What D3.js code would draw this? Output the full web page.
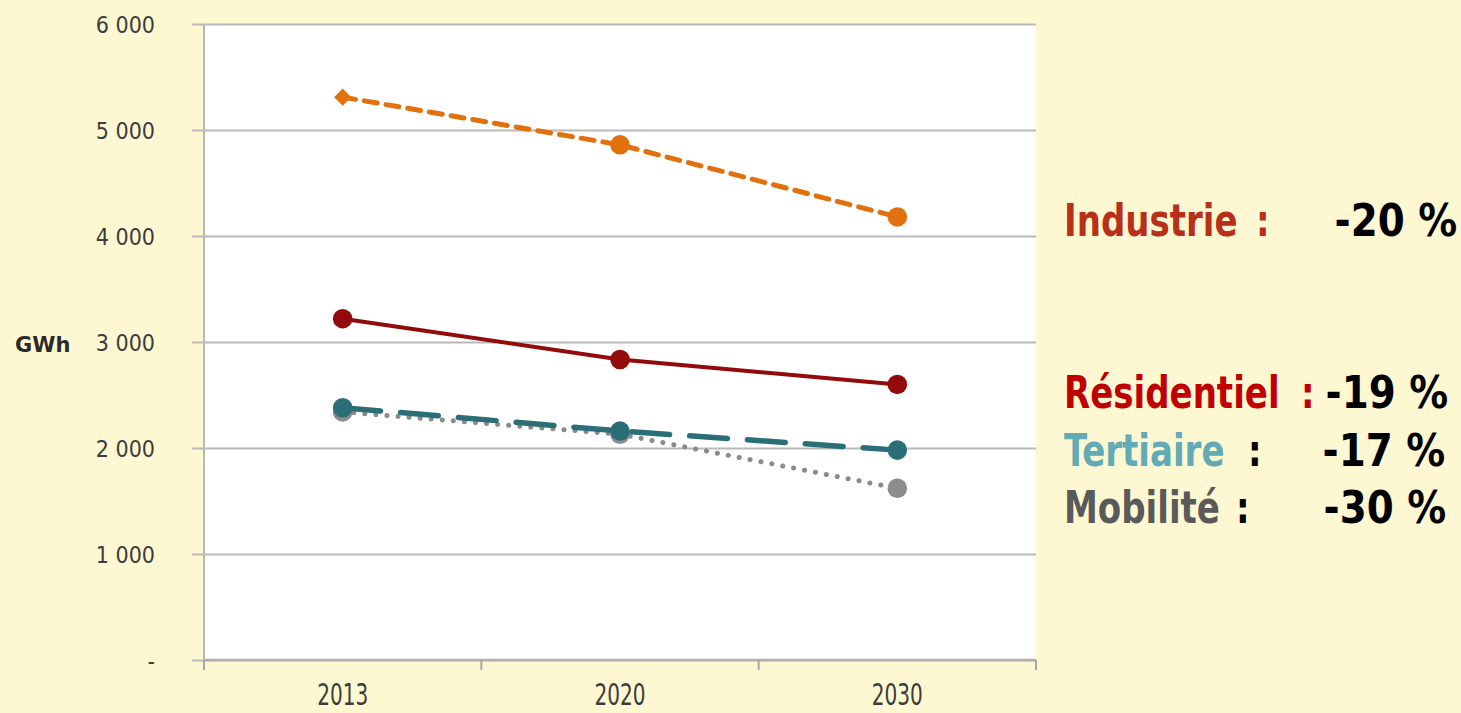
<!DOCTYPE html>
<html>
<head>
<meta charset="utf-8">
<script src="https://cdn.jsdelivr.net/npm/d3@7"></script>
<style>
  body { margin: 0; background: #fef8d2; }
  svg { display: block; }
</style>
</head>
<body>
<script>
var width = 1461, height = 713;

// data
var years = ["2013", "2020", "2030"];
var industrie = [5310, 4860, 4180];
var residentiel = [3220, 2835, 2600];
var tertiaire = [2380, 2160, 1980];
var mobilite = [2340, 2130, 1620];
var yTicks = [0, 1000, 2000, 3000, 4000, 5000, 6000];
var legendNames = ["Industrie", "Résidentiel", "Tertiaire", "Mobilité"];
var legendPct = ["-20 %", "-19 %", "-17 %", "-30 %"];

var series = [
  { values: mobilite, color: "#8a8a8a", width: 5, dash: "0.1 11", marker: "#8c8c8c" },
  { values: tertiaire, color: "#2b6e78", width: 5.5, dash: "38 20", marker: "#2b6e78" },
  { values: residentiel, color: "#930a0a", width: 4, dash: null, marker: "#930a0a" },
  { values: industrie, color: "#e2700c", width: 5, dash: "13 9", marker: "#e2700c", firstDiamond: true }
];

var font = "'DejaVu Sans', sans-serif";

var svg = d3.select("body").append("svg").attr("width", width).attr("height", height);

var x = d3.scaleBand().domain(years).range([204, 1036]);
var y = d3.scaleLinear().domain([0, 6000]).range([660, 24]);

// plot area
svg.append("rect").attr("x", 204).attr("y", 24).attr("width", 832).attr("height", 636).attr("fill", "#ffffff");

// gridlines + y axis
var yAxis = d3.axisLeft(y).tickValues(yTicks).tickSize(0).tickPadding(0)
  .tickFormat(function(d){ return d === 0 ? "-" : d3.format(",")(d).replace(",", " "); });
var gy = svg.append("g").call(yAxis);
gy.select(".domain").remove();
gy.selectAll(".tick line").remove();
gy.selectAll(".tick").append("line")
  .attr("x1", 192).attr("x2", 1036)
  .attr("stroke", "#b9b9b9").attr("stroke-width", 2);
gy.selectAll(".tick text")
  .attr("x", 155).attr("dy", "0.35em")
  .attr("font-family", font).attr("font-stretch", "condensed")
  .attr("font-size", 23).attr("fill", "#3c3c3c").attr("text-anchor", "end");
svg.append("line").attr("x1", 204).attr("x2", 204).attr("y1", 24).attr("y2", 668)
  .attr("stroke", "#b9b9b9").attr("stroke-width", 2);

svg.append("text").attr("x", 15).attr("y", 352).text("GWh")
  .attr("font-family", font).attr("font-weight", "bold")
  .attr("font-size", 21).attr("fill", "#2a2a2a");

// x axis
var xAxis = d3.axisBottom(x).tickSize(0).tickPadding(0);
var gx = svg.append("g").attr("transform", "translate(0,660)").call(xAxis);
gx.select(".domain").remove();
gx.selectAll(".tick text")
  .attr("y", 45).attr("dy", null)
  .attr("font-family", font).attr("font-stretch", "condensed")
  .attr("font-size", 31).attr("fill", "#3c3c3c")
  .attr("transform", "scale(0.72,1)");
svg.append("line").attr("x1", 204).attr("x2", 1036).attr("y1", 660).attr("y2", 660)
  .attr("stroke", "#b0b0b0").attr("stroke-width", 2.5);
var sep = [204].concat(years.map(function(d){ return x(d) + x.bandwidth(); }));
svg.selectAll("line.sep").data(sep).enter().append("line").attr("class", "sep")
  .attr("x1", function(d){ return d; }).attr("x2", function(d){ return d; })
  .attr("y1", 660).attr("y2", 670).attr("stroke", "#a8a8a8").attr("stroke-width", 2);

// lines
var line = d3.line()
  .x(function(d, i){ return x(years[i]) + x.bandwidth() / 2; })
  .y(function(d){ return y(d); });

series.forEach(function(s){
  svg.append("path").datum(s.values).attr("d", line)
    .attr("fill", "none").attr("stroke", s.color).attr("stroke-width", s.width)
    .attr("stroke-dasharray", s.dash).attr("stroke-linecap", "round");
  svg.selectAll(null).data(s.values).enter().append("path")
    .attr("transform", function(d, i){ return "translate(" + (x(years[i]) + x.bandwidth() / 2) + "," + y(d) + ")"; })
    .attr("d", function(d, i){
      if (s.firstDiamond && i === 0) return d3.symbol(d3.symbolDiamond2, 190)();
      return d3.symbol(d3.symbolCircle, 300)();
    })
    .attr("fill", s.marker);
});

// legend
var legColors = ["#b8301a", "#c00000", "#62aab5", "#5a5a5a"];
var colonColors = ["#b8301a", "#c00000", "#000000", "#000000"];
var legY = [236, 408, 466, 523];
var colonX = [1256, 1301, 1248, 1236];
var pctEnd = [1457, 1448, 1445, 1446];
function legText(xp, yp, txt, fill, anchor, sx){
  svg.append("text").attr("transform", "translate(" + xp + "," + yp + ") scale(" + sx + ",1)")
    .text(txt).attr("text-anchor", anchor)
    .attr("font-family", font).attr("font-stretch", "condensed").attr("font-weight", "bold")
    .attr("font-size", 44).attr("fill", fill);
}
legendNames.forEach(function(n, i){
  legText(1064, legY[i], n, legColors[i], "start", 0.86);
  legText(colonX[i], legY[i], ":", colonColors[i], "start", 0.86);
  legText(pctEnd[i], legY[i], legendPct[i], "#000", "end", 0.98);
});
</script>
</body>
</html>
